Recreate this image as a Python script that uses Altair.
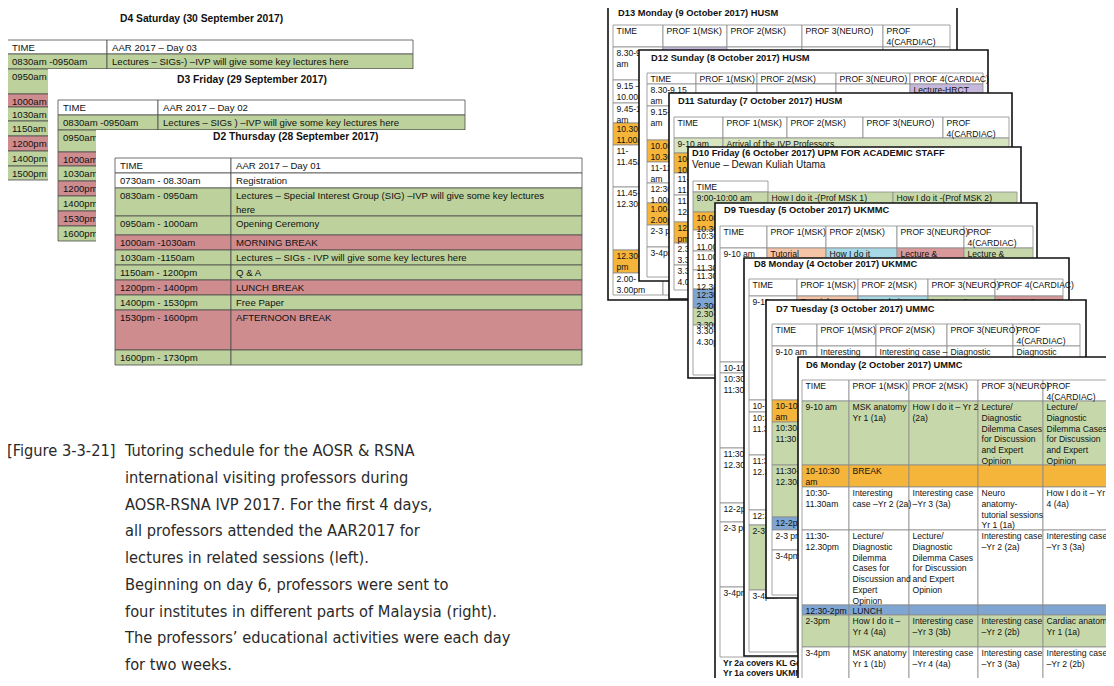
import altair as alt
import pandas as pd

# ------------------------------------------------------------------ content
caption_tag = "[Figure 3-3-21]"
caption_lines = [
    "Tutoring schedule for the AOSR & RSNA",
    "international visiting professors during",
    "AOSR-RSNA IVP 2017. For the first 4 days,",
    "all professors attended the AAR2017 for",
    "lectures in related sessions (left).",
    "Beginning on day 6, professors were sent to",
    "four institutes in different parts of Malaysia (right).",
    "The professors\u2019 educational activities were each day",
    "for two weeks.",
]

d4_title = "D4 Saturday (30 September 2017)"
d4_rows = [
    ["TIME", "AAR 2017 \u2013 Day 03"],
    ["0830am -0950am", "Lectures \u2013 SIGs-) \u2013IVP will give some key lectures here"],
    ["0950am - 1000am", ""],
    ["1000am -1030am", ""],
    ["1030am -1150am", ""],
    ["1150am - 1200pm", ""],
    ["1200pm - 1400pm", ""],
    ["1400pm - 1500pm", ""],
    ["1500pm - 1730pm", ""],
]
d4_fill = ["W", "G", "G", "R", "G", "G", "R", "G", "G"]

d3_title = "D3 Friday (29 September 2017)"
d3_rows = [
    ["TIME", "AAR 2017 \u2013 Day 02"],
    ["0830am -0950am", "Lectures \u2013 SIGs ) \u2013IVP will give some key lectures here"],
    ["0950am - 1000am", ""],
    ["1000am -1030am", ""],
    ["1030am -1200pm", ""],
    ["1200pm - 1400pm", ""],
    ["1400pm - 1530pm", ""],
    ["1530pm - 1600pm", ""],
    ["1600pm - 1730pm", ""],
]
d3_fill = ["W", "G", "G", "R", "G", "R", "G", "R", "G"]

d2_title = "D2 Thursday (28 September 2017)"
d2_rows = [
    ["TIME", "AAR 2017 \u2013 Day 01"],
    ["0730am - 08.30am", "Registration"],
    ["0830am - 0950am", "Lectures \u2013 Special Interest Group (SIG) \u2013IVP will give some key lectures\nhere"],
    ["0950am - 1000am", "Opening Ceremony"],
    ["1000am -1030am", "MORNING BREAK"],
    ["1030am -1150am", "Lectures \u2013 SIGs - IVP will give some key lectures here"],
    ["1150am - 1200pm", "Q & A"],
    ["1200pm - 1400pm", "LUNCH BREAK"],
    ["1400pm - 1530pm", "Free Paper"],
    ["1530pm - 1600pm", "AFTERNOON BREAK"],
    ["1600pm - 1730pm", ""],
]
d2_fill = ["W", "W", "G", "G", "R", "G", "G", "R", "G", "R", "G"]

HDR_A = ["TIME", "PROF 1(MSK)", "PROF 2(MSK)", "PROF 3(NEURO)", "PROF\n4(CARDIAC)"]
HDR_B = ["TIME", "PROF 1(MSK)", "PROF 2(MSK)", "PROF 3(NEURO)", "PROF 4(CARDIAC)"]

d13_title = ["D13 Monday (9 October 2017) HUSM"]
d13_rows = [HDR_A, ["8.30-9.15\nam"], ["9.15 \u2013\n10.00am"], ["9.45-10.30\nam"], ["10.30-\n11.00am"],
            ["11-\n11.45am"], ["11.45-\n12.30pm"], ["12.30-\npm"], ["2.00-\n3.00pm"]]
d13_fill = ["W", ["W", "L", "W", "W", "W"], "W", "W", "O", "W", "W", "O", "W"]

d12_title = ["D12 Sunday (8 October 2017) HUSM"]
d12_rows = [HDR_B, ["8.30-9.15\nam", "", "", "", "Lecture-HRCT"], ["9.15-10.00\nam"], ["10.00-\n10.30am"],
            ["11-12\nam"], ["12:30-\n1.00pm"], ["1.00-\n2.00pm"], ["2-3 pm"], ["3-4pm"]]
d12_fill = ["W", ["W", "W", "W", "W", "L"], "W", "O", "W", "W", "O", "W", "W"]

d11_title = ["D11 Saturday (7 October 2017) HUSM"]
d11_rows = [HDR_A, ["9-10 am", "Arrival  of the IVP Professors"], ["10-\n10.30am"], ["11-\n11.45am"],
            ["11.45-\n12.30pm"], ["12.30-2\npm"], ["2.30-\n3.30pm"], ["3.30-\n4.00pm"]]
d11_fill = ["W", "LG", "O", "W", "W", "O", "W", "W"]
d11_span = {1: [1, 4]}

d10_title = ["D10 Friday (6 October 2017) UPM FOR ACADEMIC STAFF"]
d10_venue = "Venue \u2013 Dewan Kuliah Utama"
d10_rows = [["TIME"], ["9:00-10:00 am", "How I do it -(Prof MSK 1)", "How I do it -(Prof MSK 2)"],
            ["10.00-\n10.30am", ""], ["10:30-\n11.00am", ""], ["11.00-\n11.30am", ""], ["11.30-\n12.30pm", ""],
            ["12:30-\n2.30pm", ""], ["2.30-\n3.30pm", ""], ["3.30-\n4.30pm", ""]]
d10_fill = ["W", "RG", "O", "W", "W", "W", "B", "RG", "W"]
d10_span = {0: [1], 2: [1, 2], 3: [1, 2], 4: [1, 2], 5: [1, 2], 6: [1, 2], 7: [1, 2], 8: [1, 2]}

d9_title = ["D9 Tuesday (5 October 2017) UKMMC"]
d9_rows = [HDR_A, ["9-10 am", "Tutorial", "How I do it", "Lecture &", "Lecture &"], ["10-10:30"],
           ["10:30-\n11:30"], ["11:30-\n12.30pm"], ["12-2pm"], ["2-3 pm"], ["3-4pm"]]
d9_fill = ["W", ["W", "S", "LB", "P", "RG"], "W", "W", "W", "W", "W", "W"]
d9_notes = ["Yr 2a covers KL General Hospital", "Yr 1a covers UKMMC"]

d8_title = ["D8 Monday (4 October 2017) UKMMC"]
d8_rows = [HDR_B, ["9-10 am", "Tutorial", "How I do it", "Lecture &", "Lecture &"], ["10-10:30"],
           ["10:30-\n11.30"], ["11:30-\n12.30"], ["12:30-2pm"], ["2-3 pm"], ["3-4pm"]]
d8_fill = ["W", ["W", "S", "LB", "RG", "P"], "W", "W", "W", "W", "RG", "W"]

d7_title = ["D7 Tuesday (3 October 2017) UMMC"]
d7_rows = [HDR_A, ["9-10 am", "Interesting", "Interesting case \u2013", "Diagnostic", "Diagnostic"],
           ["10-10:30\nam"], ["10:30-\n11:30"], ["11:30-\n12.30pm"], ["12-2pm"], ["2-3 pm"], ["3-4pm"]]
d7_fill = ["W", "W", "O", "RG", "RG", "B", "W", "W"]

d6_title = ["D6 Monday (2 October 2017) UMMC"]
LDD = "Lecture/\nDiagnostic\nDilemma Cases\nfor Discussion\nand Expert\nOpinion"
d6_rows = [
    HDR_A,
    ["9-10 am", "MSK anatomy\nYr 1 (1a)", "How I do it \u2013 Yr 2\n(2a)", LDD, LDD],
    ["10-10:30\nam", "BREAK", "", "", ""],
    ["10:30-\n11.30am", "Interesting\ncase \u2013Yr 2 (2a)", "Interesting case\n\u2013Yr 3 (3a)",
     "Neuro\nanatomy-\ntutorial sessions\nYr 1 (1a)", "How I do it \u2013 Yr\n4 (4a)"],
    ["11:30-\n12.30pm", "Lecture/\nDiagnostic\nDilemma\nCases for\nDiscussion and\nExpert\nOpinion", LDD,
     "Interesting case\n\u2013Yr 2 (2a)", "Interesting case\n\u2013Yr 3 (3a)"],
    ["12:30-2pm", "LUNCH", "", "", ""],
    ["2-3pm", "How I do it \u2013\nYr 4 (4a)", "Interesting case\n\u2013Yr 3 (3b)",
     "Interesting case\n\u2013Yr 2 (2b)", "Cardiac anatomy\nYr 1 (1a)"],
    ["3-4pm", "MSK anatomy\nYr 1 (1b)", "Interesting case\n\u2013Yr 4 (4a)",
     "Interesting case\n\u2013Yr 3 (3a)", "Interesting case\n\u2013Yr 2 (2b)"],
]
d6_fill = ["W", "RG", "O", "W", "W", "B", "RG", "W"]

# ------------------------------------------------------------------ styles / layout
COLORS = {"W": "#ffffff", "G": "#bcd19b", "R": "#cf8c8f", "O": "#f5b43a", "B": "#7fa5d2",
          "LB": "#a7d8e6", "S": "#f5c3a6", "P": "#d9999a", "L": "#c5b8dc", "LG": "#d6e4c0",
          "RG": "#c6d8aa"}
TF = "Liberation Sans"
CF = ("Noto Sans Condensed Light, Noto Sans ExtraCondensed Light, Noto Sans Condensed, "
      "DejaVu Sans Condensed, Liberation Sans Narrow, Liberation Sans")

left_panels = [
    dict(rows=d4_rows, fill=d4_fill, span={}, title=[d4_title], title_xy=(120, 19), frame=None,
         cols=[7, 107, 413], rh=[40, 54, 69, 94, 107, 121, 136, 151, 166, 180]),
    dict(rows=d3_rows, fill=d3_fill, span={}, title=[d3_title], title_xy=(177, 80), frame=(48, 475, 69, 248),
         cols=[58, 158, 465], rh=[100, 115, 130, 152, 166, 181, 196, 211, 226, 241]),
    dict(rows=d2_rows, fill=d2_fill, span={}, title=[d2_title], title_xy=(213, 137), frame=(96, 592, 130, 372),
         cols=[115, 231, 582], rh=[158, 173, 188, 216, 235, 250, 265, 280, 295, 310, 350, 365]),
]

right_panels = [
    dict(rows=d13_rows, fill=d13_fill, span={}, title=d13_title, title_xy=(618, 13), frame=(608, 957, -10, 300),
         cols=[613, 663, 727, 802, 883, 950], rh=[25, 47, 80, 103, 123, 145, 187, 250, 273, 295]),
    dict(rows=d12_rows, fill=d12_fill, span={}, title=d12_title, title_xy=(651, 58), frame=(639, 988, 50, 281),
         cols=[647, 696, 757, 836, 910, 983], rh=[73, 84, 106, 140, 162, 183, 203, 225, 247, 277]),
    dict(rows=d11_rows, fill=d11_fill, span=d11_span, title=d11_title, title_xy=(678, 101), frame=(669, 1012, 93, 299),
         cols=[674, 723, 787, 863, 943, 1009], rh=[117, 138, 153, 173, 195, 222, 243, 265, 290]),
    dict(rows=d10_rows, fill=d10_fill, span=d10_span, title=d10_title, title_xy=(692, 153), frame=(688, 1021, 147, 378),
         cols=[693, 768, 893, 1017], rh=[181, 192, 212, 230, 251, 270, 289, 308, 325, 375],
         sub=(d10_venue, 692, 165)),
    dict(rows=d9_rows, fill=d9_fill, span={}, title=d9_title, title_xy=(724, 210), frame=(715, 1037, 203, 720),
         cols=[720, 767, 826, 897, 964, 1033], rh=[226, 248, 362, 373, 448, 503, 522, 587, 657],
         notes=(d9_notes, 723, 659, 9.5)),
    dict(rows=d8_rows, fill=d8_fill, span={}, title=d8_title, title_xy=(754, 264), frame=(744, 1069, 258, 656),
         cols=[749, 797, 858, 928, 995, 1063], rh=[279, 296, 400, 412, 455, 510, 525, 590, 652]),
    dict(rows=d7_rows, fill=d7_fill, span={}, title=d7_title, title_xy=(776, 309), frame=(766, 1086, 300, 598),
         cols=[772, 817, 876, 947, 1013, 1080], rh=[324, 346, 400, 422, 465, 517, 530, 550, 595]),
    dict(rows=d6_rows, fill=d6_fill, span={}, title=d6_title, title_xy=(806, 365), frame=(798, 1130, 357, 720),
         cols=[802, 849, 909, 978, 1043, 1112], rh=[380, 401, 465, 487, 530, 605, 615, 647, 720]),
]

XS = alt.Scale(domain=[8, 1106], nice=False, zero=False)
YS = alt.Scale(domain=[8, 678], nice=False, zero=False, reverse=True)


def cells_of(p, pad_x, pad_y):
    recs = []
    ncol = len(p["cols"]) - 1
    for r, row in enumerate(p["rows"]):
        spans = p["span"].get(r)
        texts = list(row)
        if spans is None:
            spans = [1] * ncol
            texts = texts + [""] * (ncol - len(texts))
        f = p["fill"][r]
        fills = f if isinstance(f, list) else [f] * len(spans)
        c = 0
        for i, s in enumerate(spans):
            x0, x1 = p["cols"][c], p["cols"][c + s]
            y0, y1 = p["rh"][r], p["rh"][r + 1]
            recs.append(dict(x0=x0, x1=x1, y0=y0, y1=y1, fill=COLORS[fills[i]],
                             text=texts[i], tx=x0 + pad_x, ty=y0 + pad_y))
            c += s
    return pd.DataFrame(recs)


def rect_layer(df, stroke, sw):
    return alt.Chart(df).mark_rect(stroke=stroke, strokeWidth=sw).encode(
        x=alt.X("x0:Q", scale=XS, axis=None), x2="x1:Q",
        y=alt.Y("y0:Q", scale=YS, axis=None), y2="y1:Q",
        fill=alt.Fill("fill:N", scale=None, legend=None))


def text_layer(df, size, lh, weight="normal", font=TF, color="#111111", baseline="top"):
    return alt.Chart(df).mark_text(align="left", baseline=baseline, font=font, fontSize=size,
                                   fontWeight=weight, lineBreak="\n", lineHeight=lh, color=color).encode(
        x=alt.X("tx:Q", scale=XS, axis=None), y=alt.Y("ty:Q", scale=YS, axis=None), text="text:N")


def panel_layers(p, size, lh, pad_x, pad_y, title_size, frame_stroke, frame_sw, cell_stroke):
    out = []
    if p["frame"] is not None:
        x0, x1, y0, y1 = p["frame"]
        fr = pd.DataFrame([dict(x0=x0, x1=x1, y0=y0, y1=y1, fill="#ffffff")])
        out.append(rect_layer(fr, frame_stroke, frame_sw))
    cells = cells_of(p, pad_x, pad_y)
    out.append(rect_layer(cells, cell_stroke, 0.8))
    txt = cells[cells["text"] != ""]
    out.append(text_layer(txt, size, lh))
    tx, ty = p["title_xy"]
    tdf = pd.DataFrame([dict(tx=tx, ty=ty, text=p["title"][0])])
    out.append(text_layer(tdf, title_size, title_size + 2, weight="bold", baseline="middle"))
    if "sub" in p:
        s, sx, sy = p["sub"]
        out.append(text_layer(pd.DataFrame([dict(tx=sx, ty=sy, text=s)]), 10, 12, baseline="middle"))
    if "notes" in p:
        notes, nx, ny, step = p["notes"]
        ndf = pd.DataFrame([dict(tx=nx, ty=ny + i * step, text=t) for i, t in enumerate(notes)])
        out.append(text_layer(ndf, 8.5, 9.5, weight="bold"))
    return out


layers = []
for p in left_panels:
    layers += panel_layers(p, 9.6, 14, 5, 2.5, 10.3, None, 0, "#4d4d4d")
for p in right_panels:
    layers += panel_layers(p, 8.6, 10.8, 3.5, 2, 9.3, "#111111", 1.6, "#8c8c8c")

# caption
cap = pd.DataFrame([dict(tx=7, ty=456, text=caption_tag)] +
                   [dict(tx=125, ty=456 + i * 26.75, text=t) for i, t in enumerate(caption_lines)])
layers.append(text_layer(cap, 16.3, 20, font=CF, color="#2a2a2a", baseline="alphabetic"))

chart = alt.layer(*layers).properties(
    width=1098, height=670, padding=0,
    autosize=alt.AutoSizeParams(type="none"),
    background="white",
).configure_view(stroke=None)

chart.save("out.html", embed_options={"renderer": "svg", "actions": False})
